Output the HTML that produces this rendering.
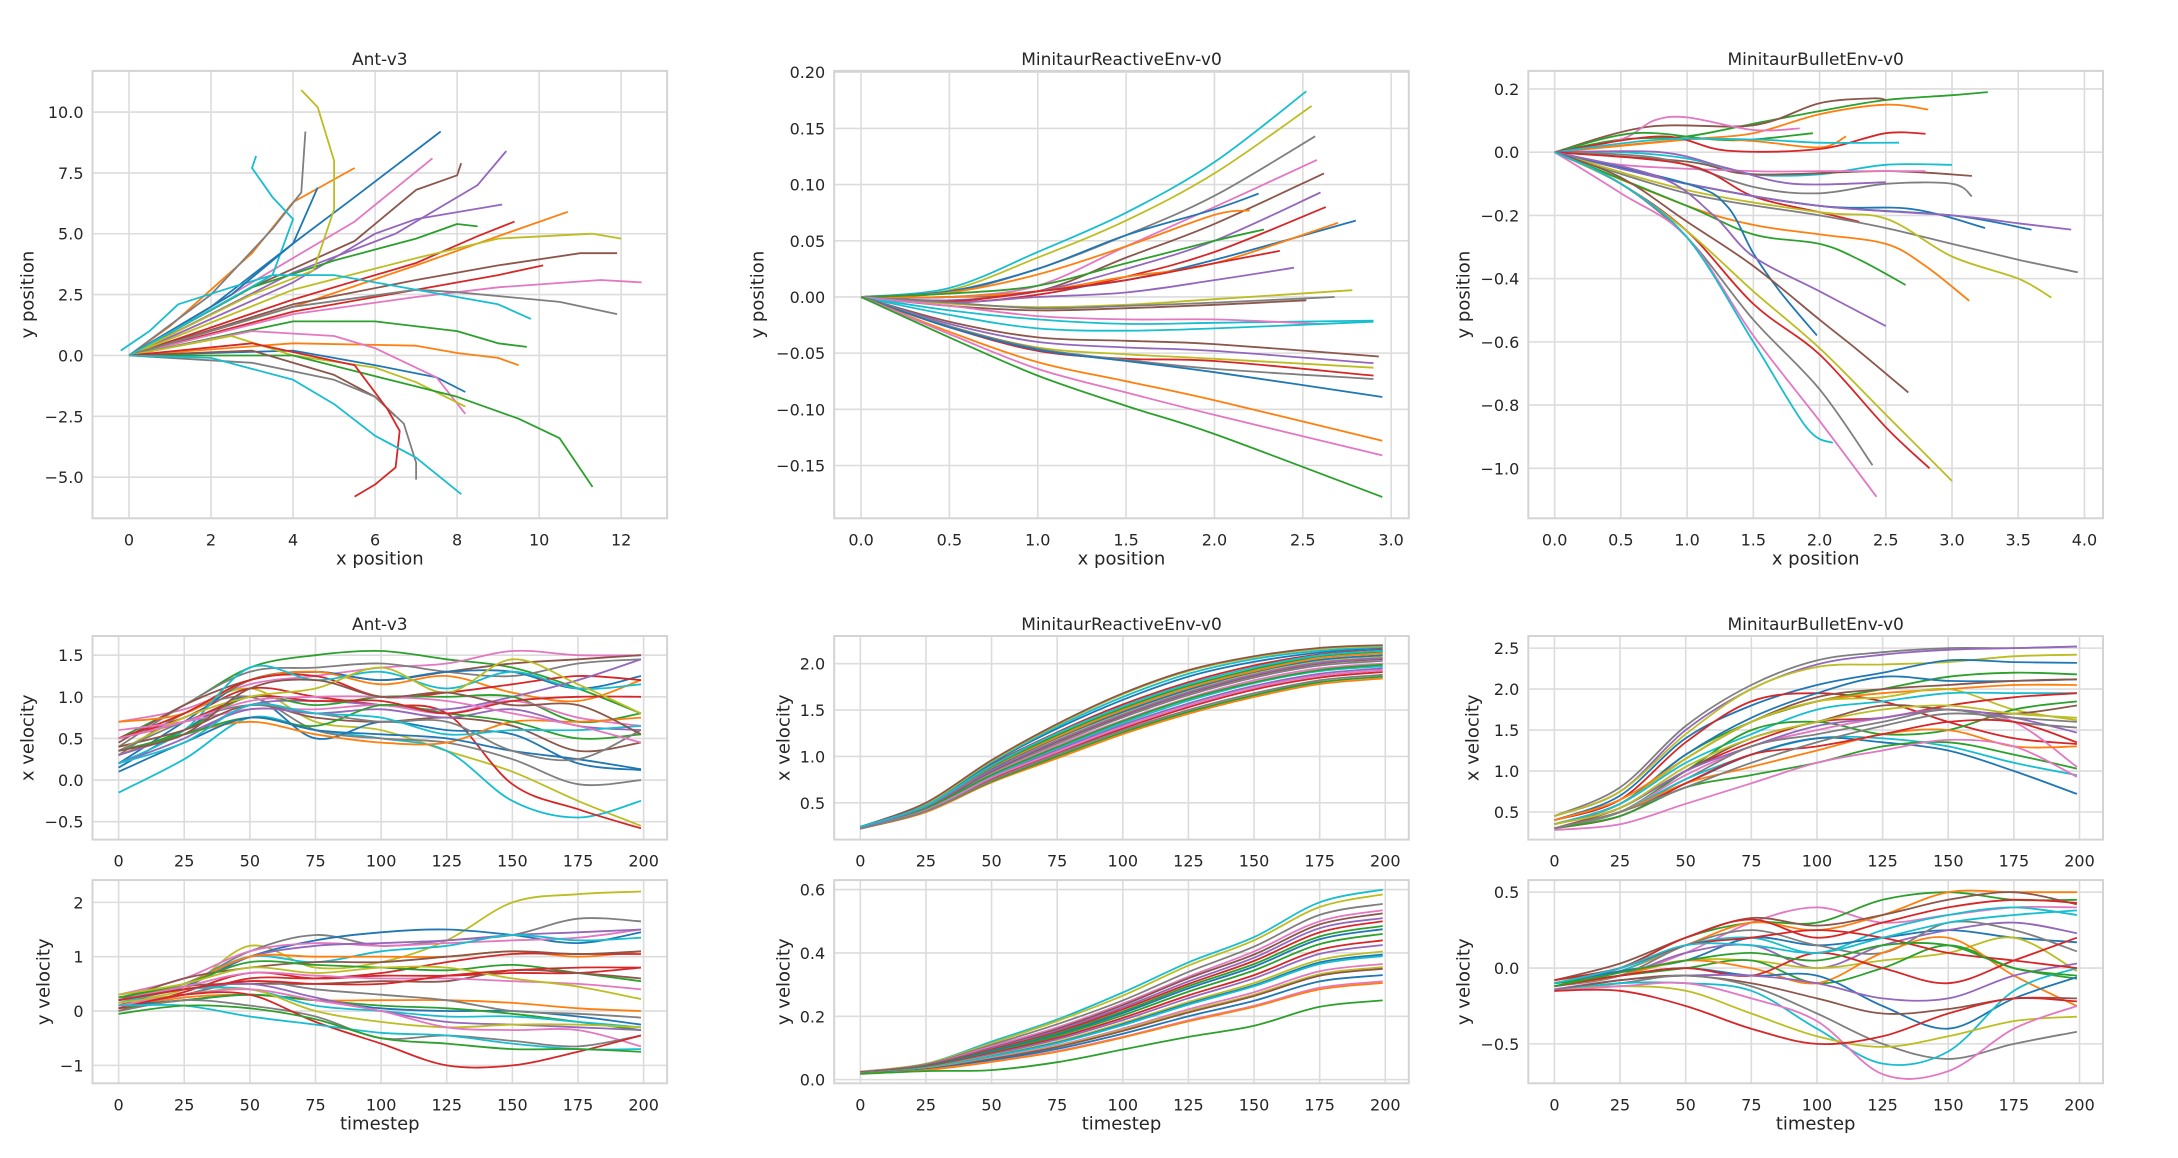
<!DOCTYPE html>
<html><head><meta charset="utf-8">
<style>
html,body{margin:0;padding:0;background:#fff;}
svg{display:block;}
text{font-family:"DejaVu Sans","Liberation Sans",sans-serif;fill:#262626;}
</style></head>
<body>
<svg id="fig" width="2178" height="1158" viewBox="0 0 2178 1158" xmlns="http://www.w3.org/2000/svg"></svg>
<script>
const C=['#1f77b4','#ff7f0e','#2ca02c','#d62728','#9467bd','#8c564b','#e377c2','#7f7f7f','#bcbd22','#17becf'];
const timeSteps=[0,25,50,75,100,125,150,175,199];
const timeTicks=[0,25,50,75,100,125,150,175,200];

// ---- Ant-v3 trajectories [x,y]
const antTraj=[
[[0,0],[2,2],[4,4.6],[5.5,6.5],[7.6,9.2]],
[[0,0],[3,3],[5.5,5.5],[7.4,8.1]],
[[0,0],[3,2.8],[5.5,4.7],[7,6.8],[8,7.4],[8.1,7.9]],
[[0,0],[4,3.4],[6.5,5],[8.5,7],[9.2,8.4]],
[[0,0],[4,3],[6,5],[7,5.6],[9.1,6.2]],
[[0,0],[3,2.8],[5,3.9],[7,4.8],[8,5.4],[8.5,5.3]],
[[0,0],[1,1.2],[2,2.7],[3,4.2],[4,6.3],[5.5,7.7]],
[[0,0],[2,2.5],[3.5,5.2],[4.2,6.7],[4.3,9.2]],
[[0,0],[3,2.5],[4.5,3.5],[5,6],[5,8],[4.6,10.2],[4.2,10.9]],
[[-0.2,0.2],[0.5,1],[1.2,2.1],[2.5,2.8],[3.5,3.3],[4,5.6],[3.5,6.5],[3,7.7],[3.1,8.2]],
[[0,0],[2.5,2.5],[4,4.6],[4.6,6.9]],
[[0,0],[4,2],[7,3.7],[9,4.9],[10.7,5.9]],
[[0,0],[4,2.3],[7,3.8],[8.5,4.9],[9.4,5.5]],
[[0,0],[4,2.7],[7,4],[9,4.8],[11.3,5.0],[12,4.8]],
[[0,0],[4,2.1],[7,3.1],[9,3.7],[11,4.2],[11.9,4.2]],
[[0,0],[4,1.8],[7,2.7],[9,3.3],[10.1,3.7]],
[[0,0],[4,1.7],[7,2.4],[9,2.8],[11.5,3.1],[12.5,3.0]],
[[0,0],[4,2],[7,2.7],[8,2.6],[10.5,2.2],[11.9,1.7]],
[[0,0],[3.5,3.3],[5,3.3],[7,2.7],[9,2.1],[9.8,1.5]],
[[0,0],[4,1.4],[6,1.4],[8,1.0],[9,0.5],[9.7,0.35]],
[[0,0],[4,0.5],[7,0.4],[8,0.1],[9,-0.1],[9.5,-0.4]],
[[0,0],[4,0.2],[6,-0.4],[7.5,-0.9],[8.2,-1.5]],
[[0,0],[3,1],[5,0.8],[6,0.3],[7.5,-0.9],[8.2,-2.4]],
[[0,0],[2.5,0.8],[4,0],[6,-0.5],[7,-1.1],[8.2,-2.1]],
[[0,0],[4,0],[8,-1.7],[9.5,-2.6],[10.5,-3.4],[11.3,-5.4]],
[[0,0],[3,0.2],[5,-0.8],[6,-1.7],[6.5,-2.5]],
[[0,0],[3,-0.3],[5,-1],[6,-1.7],[6.7,-2.8],[7,-4.4],[7,-5.1]],
[[0,0],[3,0.5],[5.5,-0.4],[6.3,-2.2],[6.6,-3.1],[6.5,-4.6],[6,-5.3],[5.5,-5.8]],
[[0,0],[2,-0.1],[4,-1],[5,-2],[6,-3.3],[7,-4.2],[8.1,-5.7]]
];
const antTrajColors=[0,6,5,4,4,2,1,7,8,9,0,1,3,8,5,3,6,7,9,2,1,0,6,8,2,5,7,3,9];

// ---- MinitaurReactive trajectories
const mrTraj=[
[[0,0],[0.5,0.008],[1,0.04],[1.5,0.075],[2,0.12],[2.52,0.183]],
[[0,0],[0.5,0.006],[1,0.035],[1.5,0.068],[2,0.11],[2.55,0.17]],
[[0,0],[0.5,0.004],[1,0.025],[1.5,0.055],[2,0.09],[2.57,0.143]],
[[0,0],[0.5,0.0],[1,0.01],[1.5,0.045],[2,0.08],[2.58,0.122]],
[[0,0],[0.5,0.0],[1,0.005],[1.5,0.035],[2,0.065],[2.62,0.11]],
[[0,0],[0.5,-0.003],[1,0.005],[1.5,0.025],[2,0.05],[2.6,0.093]],
[[0,0],[0.5,0.005],[1,0.025],[1.5,0.055],[2,0.078],[2.25,0.092]],
[[0,0],[0.5,-0.005],[1,0.002],[1.5,0.018],[2,0.04],[2.63,0.08]],
[[0,0],[0.5,0.0],[1,0.005],[1.5,0.015],[2,0.033],[2.8,0.068]],
[[0,0],[0.5,0.004],[1,0.02],[1.5,0.045],[2,0.073],[2.2,0.077]],
[[0,0],[0.5,0.0],[1,0.005],[1.5,0.018],[2,0.03],[2.7,0.066]],
[[0,0],[0.5,0.003],[1,0.01],[1.5,0.03],[2,0.05],[2.28,0.06]],
[[0,0],[0.5,-0.004],[1,0.005],[1.5,0.015],[2,0.03],[2.37,0.041]],
[[0,0],[0.5,-0.005],[1,0.0],[1.5,0.004],[2,0.015],[2.45,0.026]],
[[0,0],[0.5,-0.006],[1,-0.009],[1.5,-0.007],[2,-0.002],[2.78,0.006]],
[[0,0],[0.5,-0.005],[1,-0.01],[1.5,-0.008],[2,-0.005],[2.68,0.0]],
[[0,0],[0.5,-0.008],[1,-0.012],[1.5,-0.01],[2,-0.007],[2.52,-0.003]],
[[0,0],[0.5,-0.012],[1,-0.02],[1.5,-0.024],[2,-0.023],[2.9,-0.021]],
[[0,0],[0.5,-0.008],[1,-0.017],[1.5,-0.02],[2,-0.02],[2.6,-0.024]],
[[0,0],[0.5,-0.016],[1,-0.028],[1.5,-0.03],[2,-0.028],[2.9,-0.022]],
[[0,0],[0.5,-0.022],[1,-0.036],[1.5,-0.039],[2,-0.042],[2.93,-0.053]],
[[0,0],[0.5,-0.024],[1,-0.04],[1.5,-0.045],[2,-0.048],[2.9,-0.059]],
[[0,0],[0.5,-0.026],[1,-0.045],[1.5,-0.051],[2,-0.055],[2.9,-0.063]],
[[0,0],[0.5,-0.027],[1,-0.048],[1.5,-0.055],[2,-0.057],[2.9,-0.07]],
[[0,0],[0.5,-0.026],[1,-0.046],[1.5,-0.056],[2,-0.064],[2.9,-0.073]],
[[0,0],[0.5,-0.027],[1,-0.047],[1.5,-0.057],[2,-0.067],[2.95,-0.089]],
[[0,0],[0.5,-0.031],[1,-0.058],[1.5,-0.075],[2,-0.092],[2.95,-0.128]],
[[0,0],[0.5,-0.033],[1,-0.064],[1.5,-0.085],[2,-0.105],[2.95,-0.141]],
[[0,0],[0.5,-0.036],[1,-0.07],[1.5,-0.097],[2,-0.122],[2.95,-0.178]]
];
const mrTrajColors=[9,8,7,6,5,4,0,3,0,1,1,2,3,4,8,7,5,9,6,9,5,4,8,3,7,0,1,6,2];

// ---- MinitaurBullet trajectories
const mbTraj=[
[[0,0],[0.5,0.04],[1,0.05],[1.5,0.09],[2,0.13],[2.5,0.165],[3,0.18],[3.27,0.19]],
[[0,0],[0.7,0.08],[1.5,0.085],[2,0.155],[2.4,0.17],[2.5,0.165]],
[[0,0],[1,0.04],[1.5,0.06],[2,0.12],[2.5,0.15],[2.82,0.135]],
[[0,0],[0.5,0.04],[0.75,0.1],[1,0.11],[1.5,0.07],[1.85,0.075]],
[[0,0],[0.6,0.06],[1.2,0.04],[1.5,0.04],[1.95,0.06]],
[[0,0],[1,0.04],[1.5,0.035],[2,0.015],[2.2,0.05]],
[[0,0],[0.8,0.05],[1.3,0.005],[2,0.01],[2.5,0.06],[2.8,0.058]],
[[0,0],[0.8,0.04],[1.5,0.04],[2,0.03],[2.6,0.03]],
[[0,0],[0.5,0],[1,-0.02],[1.5,-0.07],[2,-0.07],[2.5,-0.04],[3,-0.04]],
[[0,0],[1,-0.03],[1.5,-0.07],[2.5,-0.06],[3.15,-0.075]],
[[0,0],[0.5,-0.04],[1.5,-0.06],[2,-0.06],[2.8,-0.06]],
[[0,0],[0.8,0],[1.3,-0.05],[1.8,-0.1],[2.5,-0.095]],
[[0,0],[0.8,-0.02],[1.5,-0.11],[2,-0.13],[2.5,-0.1],[3,-0.1],[3.15,-0.14]],
[[0,0],[1,-0.04],[1.5,-0.14],[2,-0.19],[2.3,-0.22]],
[[0,0],[1,-0.1],[2,-0.17],[2.7,-0.18],[3.25,-0.24]],
[[0,0],[1,-0.1],[2,-0.17],[3,-0.2],[3.6,-0.245]],
[[0,0],[1,-0.1],[2,-0.17],[3,-0.2],[3.5,-0.225],[3.9,-0.245]],
[[0,0],[1,-0.13],[2,-0.2],[2.5,-0.24],[3,-0.29],[3.5,-0.34],[3.95,-0.38]],
[[0,0],[1,-0.12],[2,-0.19],[2.5,-0.21],[3,-0.33],[3.5,-0.4],[3.75,-0.46]],
[[0,0],[1,-0.17],[1.5,-0.23],[2,-0.26],[2.5,-0.29],[2.8,-0.36],[3.13,-0.47]],
[[0,0],[1,-0.17],[1.5,-0.26],[2,-0.29],[2.3,-0.34],[2.65,-0.42]],
[[0,0],[1,-0.1],[1.3,-0.17],[1.5,-0.32],[1.7,-0.44],[1.98,-0.58]],
[[0,0],[0.8,-0.08],[1.2,-0.2],[1.5,-0.33],[2,-0.44],[2.5,-0.55]],
[[0,0],[0.5,-0.08],[1,-0.22],[1.5,-0.36],[2,-0.53],[2.3,-0.63],[2.67,-0.76]],
[[0,0],[0.5,-0.1],[1,-0.25],[1.5,-0.48],[2,-0.64],[2.5,-0.87],[2.83,-1.0]],
[[0,0],[0.5,-0.1],[1,-0.25],[1.5,-0.44],[2,-0.62],[2.5,-0.83],[3.0,-1.04]],
[[0,0],[0.5,-0.1],[1,-0.27],[1.5,-0.53],[2,-0.75],[2.4,-0.99]],
[[0,0],[0.5,-0.13],[1,-0.27],[1.5,-0.58],[2,-0.85],[2.43,-1.09]],
[[0,0],[0.5,-0.1],[1,-0.27],[1.5,-0.6],[1.9,-0.87],[2.1,-0.92]]
];
const mbTrajColors=[2,5,1,6,2,1,3,9,9,5,6,4,7,3,0,0,4,7,8,1,2,0,4,5,3,8,7,6,9];

// ---- Ant-v3 x velocity
const antXv=[
[0.5,0.9,1.35,1.5,1.55,1.45,1.35,1.1,0.8],
[0.7,0.85,1.15,1.25,1.35,1.4,1.55,1.5,1.5],
[0.3,0.8,1.1,0.7,0.6,0.35,0.1,-0.25,-0.55],
[-0.15,0.25,0.75,0.6,0.5,0.35,-0.25,-0.45,-0.25],
[0.5,0.75,1.1,1.0,0.9,0.8,-0.05,-0.35,-0.58],
[0.4,0.9,1.3,1.35,1.4,1.3,1.25,1.4,1.45],
[0.45,0.9,1.2,1.3,1.2,1.3,1.4,1.45,1.5],
[0.15,0.6,1.0,0.5,0.7,0.6,0.55,0.2,0.12],
[0.3,0.8,1.0,0.6,0.5,0.45,0.25,-0.05,0.0],
[0.2,0.7,1.2,1.3,1.2,1.3,1.3,1.1,1.25],
[0.7,0.8,1.2,1.3,1.15,1.25,1.05,0.95,1.2],
[0.5,0.8,1.2,1.25,1.0,1.05,1.15,1.25,1.2],
[0.2,0.6,1.35,1.2,1.3,1.1,1.3,1.1,1.15],
[0.2,0.5,0.9,0.95,0.9,0.85,1.0,1.2,1.45],
[0.3,0.6,1.0,0.9,1.0,1.0,1.0,0.7,0.8],
[0.6,0.7,0.85,0.85,0.9,0.8,0.95,0.75,0.65],
[0.4,0.6,0.9,0.75,0.7,0.75,0.65,0.35,0.45],
[0.3,0.55,0.7,0.55,0.45,0.45,0.7,0.7,0.75],
[0.3,0.55,0.85,0.8,0.85,0.75,0.85,0.65,0.6],
[0.35,0.55,0.75,0.65,0.9,0.8,0.7,0.5,0.55],
[0.5,0.7,1.0,0.95,0.95,0.8,0.95,1.0,1.0],
[0.35,0.75,1.0,1.1,1.35,1.05,1.45,1.15,0.8],
[0.1,0.45,0.75,0.6,0.55,0.5,0.35,0.25,0.13],
[0.35,0.7,0.9,0.8,0.7,0.7,0.35,0.25,0.6],
[0.2,0.45,0.9,0.8,0.75,0.55,0.6,0.6,0.65],
[0.5,0.7,0.95,1.0,1.0,0.95,0.8,0.65,0.45],
[0.35,0.55,1.1,1.2,1.0,1.05,0.9,0.9,0.55]
];
const antXvColors=[2,6,8,9,3,7,5,0,7,0,1,3,9,4,2,6,5,1,4,2,3,8,0,7,9,6,5];

// ---- Ant-v3 y velocity
const antYv=[
[0.2,0.4,1.2,0.8,0.9,1.3,2.0,2.15,2.2],
[0.3,0.5,1.1,1.4,1.2,1.3,1.4,1.7,1.65],
[0.2,0.45,1.0,1.3,1.45,1.5,1.4,1.25,1.45],
[0.3,0.6,1.1,1.25,1.2,1.25,1.3,1.35,1.5],
[0.1,0.5,1.0,1.2,1.25,1.3,1.4,1.45,1.5],
[0.2,0.5,1.0,0.9,1.1,1.2,1.4,1.3,1.35],
[0.25,0.5,1.0,1.0,1.0,1.0,1.1,1.0,1.1],
[0.1,0.3,0.6,0.6,0.7,0.9,1.05,1.05,1.05],
[0.2,0.6,0.8,0.9,0.9,1.0,1.1,1.05,1.1],
[0.0,0.35,0.7,0.6,0.65,0.65,0.7,0.7,0.8],
[0.25,0.5,0.9,0.85,0.8,0.75,0.85,0.7,0.55],
[0.1,0.45,0.5,0.5,0.55,0.55,0.75,0.7,0.6],
[0.2,0.45,0.7,0.65,0.6,0.6,0.55,0.5,0.4],
[0.3,0.5,0.8,0.7,0.8,0.8,0.6,0.45,0.22],
[0.05,0.25,0.3,0.2,0.2,0.2,0.15,0.05,0.0],
[0.1,0.2,0.3,0.2,0.05,0.0,0.0,-0.1,-0.25],
[0.1,0.3,0.55,0.4,0.3,0.2,0.0,-0.05,-0.12],
[0.05,0.2,0.3,0.2,0.1,0.05,-0.05,-0.2,-0.35],
[0.15,0.4,0.4,0.1,0.0,-0.1,-0.1,-0.2,-0.3],
[0.2,0.4,0.5,0.25,0.0,-0.2,-0.25,-0.3,-0.35],
[0.15,0.3,0.4,0.0,-0.2,-0.3,-0.25,-0.25,-0.3],
[0.1,0.3,0.4,0.2,0.0,-0.3,-0.35,-0.35,-0.65],
[0.0,0.2,0.1,-0.1,-0.5,-0.45,-0.55,-0.65,-0.45],
[0.05,0.3,0.3,-0.2,-0.6,-1.0,-1.0,-0.75,-0.45],
[0.1,0.1,-0.1,-0.25,-0.4,-0.45,-0.6,-0.7,-0.7],
[-0.05,0.1,0.05,-0.15,-0.5,-0.6,-0.7,-0.7,-0.75],
[0.2,0.4,0.55,0.5,0.5,0.65,0.75,0.8,0.8]
];
const antYvColors=[8,7,0,6,4,9,1,3,5,3,2,5,6,8,1,0,7,2,9,4,8,6,7,3,9,2,3];

// ---- MinitaurReactive x velocity
const mrXv=[
[0.22,0.40,0.72,0.98,1.24,1.46,1.64,1.78,1.84],
[0.22,0.41,0.73,1.0,1.26,1.48,1.66,1.8,1.86],
[0.23,0.42,0.76,1.04,1.3,1.53,1.72,1.85,1.91],
[0.23,0.43,0.78,1.07,1.34,1.57,1.76,1.89,1.95],
[0.22,0.43,0.79,1.09,1.36,1.6,1.79,1.92,1.97],
[0.23,0.44,0.81,1.12,1.39,1.63,1.82,1.95,2.0],
[0.23,0.45,0.83,1.14,1.42,1.66,1.85,1.98,2.03],
[0.24,0.45,0.84,1.16,1.44,1.68,1.87,2.0,2.05],
[0.23,0.46,0.86,1.18,1.46,1.7,1.89,2.02,2.07],
[0.24,0.46,0.87,1.2,1.48,1.72,1.91,2.04,2.09],
[0.24,0.47,0.88,1.21,1.5,1.74,1.92,2.06,2.11],
[0.23,0.47,0.89,1.23,1.52,1.76,1.94,2.08,2.13],
[0.24,0.48,0.91,1.26,1.56,1.8,1.98,2.1,2.15],
[0.23,0.48,0.93,1.3,1.61,1.86,2.02,2.12,2.17],
[0.24,0.49,0.94,1.32,1.64,1.89,2.05,2.14,2.18],
[0.24,0.49,0.95,1.34,1.67,1.92,2.07,2.16,2.19],
[0.24,0.5,0.96,1.35,1.68,1.93,2.08,2.17,2.2],
[0.23,0.44,0.8,1.1,1.38,1.62,1.8,1.93,1.99],
[0.22,0.42,0.77,1.05,1.32,1.55,1.74,1.87,1.93],
[0.23,0.46,0.85,1.17,1.45,1.69,1.88,2.01,2.06],
[0.22,0.41,0.74,1.02,1.28,1.5,1.68,1.82,1.88],
[0.24,0.47,0.9,1.25,1.54,1.78,1.96,2.09,2.14]
];
const mrXvColors=[1,2,3,4,9,6,7,5,8,0,1,2,3,0,9,8,5,2,6,4,7,9];

// ---- MinitaurReactive y velocity
const mrYv=[
[0.025,0.05,0.12,0.19,0.275,0.37,0.45,0.56,0.60],
[0.025,0.05,0.115,0.185,0.265,0.36,0.44,0.545,0.585],
[0.024,0.048,0.11,0.175,0.25,0.34,0.42,0.52,0.555],
[0.024,0.046,0.105,0.165,0.24,0.325,0.405,0.5,0.535],
[0.023,0.045,0.1,0.16,0.235,0.32,0.395,0.49,0.525],
[0.023,0.044,0.098,0.155,0.228,0.31,0.385,0.478,0.51],
[0.023,0.043,0.095,0.15,0.222,0.302,0.375,0.465,0.50],
[0.022,0.042,0.092,0.146,0.215,0.295,0.365,0.452,0.485],
[0.022,0.041,0.09,0.142,0.21,0.288,0.357,0.443,0.475],
[0.022,0.04,0.086,0.138,0.203,0.278,0.345,0.428,0.46],
[0.022,0.039,0.083,0.132,0.195,0.266,0.33,0.41,0.44],
[0.021,0.038,0.08,0.127,0.188,0.257,0.32,0.397,0.425],
[0.021,0.037,0.076,0.12,0.179,0.245,0.305,0.378,0.405],
[0.021,0.036,0.074,0.117,0.175,0.24,0.298,0.37,0.395],
[0.021,0.036,0.073,0.115,0.172,0.237,0.295,0.365,0.39],
[0.02,0.034,0.068,0.108,0.161,0.222,0.276,0.342,0.365],
[0.02,0.034,0.066,0.105,0.157,0.216,0.268,0.333,0.355],
[0.02,0.033,0.065,0.103,0.154,0.212,0.264,0.328,0.35],
[0.02,0.032,0.061,0.097,0.145,0.2,0.249,0.31,0.33],
[0.019,0.03,0.057,0.09,0.135,0.187,0.233,0.29,0.31],
[0.019,0.03,0.056,0.088,0.133,0.184,0.23,0.285,0.305],
[0.018,0.027,0.03,0.055,0.095,0.135,0.17,0.23,0.25]
];
const mrYvColors=[9,8,7,6,5,4,3,2,0,2,3,4,8,0,9,6,8,5,0,6,1,2];

// ---- MinitaurBullet x velocity
const mbXv=[
[0.45,0.8,1.55,2.05,2.35,2.45,2.5,2.5,2.52],
[0.45,0.75,1.5,2.0,2.3,2.42,2.48,2.5,2.52],
[0.45,0.75,1.45,2.0,2.27,2.3,2.33,2.4,2.42],
[0.4,0.7,1.4,1.8,2.05,2.2,2.35,2.33,2.32],
[0.4,0.65,1.35,1.85,1.95,1.85,1.6,1.4,1.33],
[0.35,0.6,1.2,1.6,1.85,2.0,2.15,2.2,2.18],
[0.35,0.6,1.2,1.65,1.95,2.15,2.1,2.1,2.12],
[0.35,0.6,1.15,1.6,1.9,2.0,2.05,2.1,2.12],
[0.4,0.65,1.15,1.6,1.85,1.95,2.0,2.05,2.05],
[0.35,0.6,1.15,1.6,1.85,1.9,2.0,1.75,1.62],
[0.35,0.6,1.1,1.45,1.75,1.85,1.95,1.95,1.95],
[0.3,0.55,1.0,1.35,1.6,1.65,1.8,1.9,1.95],
[0.3,0.5,1.0,1.5,1.6,1.45,1.5,1.75,1.85],
[0.3,0.55,1.0,1.4,1.6,1.8,1.75,1.7,1.8],
[0.3,0.5,0.95,1.3,1.5,1.65,1.75,1.6,1.05],
[0.35,0.55,1.0,1.3,1.55,1.65,1.75,1.65,1.47],
[0.3,0.5,0.9,1.3,1.45,1.6,1.75,1.6,1.53],
[0.3,0.5,0.9,1.2,1.4,1.4,1.3,1.1,0.95],
[0.3,0.5,0.85,1.2,1.4,1.35,1.25,1.0,0.72],
[0.3,0.5,0.85,1.05,1.25,1.45,1.5,1.3,1.3],
[0.3,0.45,0.85,1.2,1.3,1.45,1.6,1.6,1.35],
[0.3,0.45,0.8,0.95,1.1,1.3,1.35,1.2,1.03],
[0.28,0.35,0.6,0.85,1.1,1.25,1.38,1.3,0.93],
[0.3,0.5,0.8,1.1,1.35,1.55,1.7,1.65,1.6],
[0.35,0.55,1.05,1.4,1.6,1.75,1.8,1.7,1.65]
];
const mbXvColors=[7,4,8,0,3,2,0,5,1,8,9,3,2,5,6,4,7,9,0,1,3,2,6,7,8];

// ---- MinitaurBullet y velocity
const mbYv=[
[-0.1,-0.05,0.1,0.3,0.4,0.3,0.35,0.4,0.4],
[-0.08,0.0,0.2,0.3,0.3,0.45,0.5,0.45,0.45],
[-0.1,-0.02,0.15,0.3,0.25,0.35,0.5,0.5,0.5],
[-0.08,0.03,0.2,0.33,0.28,0.35,0.45,0.5,0.42],
[-0.1,0.0,0.2,0.32,0.2,0.3,0.4,0.45,0.43],
[-0.12,-0.02,0.15,0.2,0.1,0.25,0.35,0.4,0.35],
[-0.1,-0.02,0.05,0.2,0.15,0.2,0.25,0.2,0.17],
[-0.1,-0.05,0.1,0.15,0.0,0.15,0.25,0.3,0.23],
[-0.12,-0.05,0.15,0.25,0.15,0.1,0.3,0.25,0.11],
[-0.12,-0.05,0.05,0.05,0.0,0.05,0.1,0.2,-0.02],
[-0.1,-0.05,0.0,0.05,-0.1,0.0,0.15,0.0,-0.07],
[-0.12,-0.05,0.05,0.0,-0.1,0.1,0.2,-0.05,-0.25],
[-0.12,-0.05,0.0,-0.05,-0.05,-0.25,-0.4,-0.2,-0.06],
[-0.12,-0.05,0.0,-0.05,0.1,0.0,-0.1,0.05,0.2],
[-0.14,-0.08,-0.05,-0.05,-0.1,-0.2,-0.2,-0.05,0.03],
[-0.15,-0.08,-0.05,-0.1,-0.2,-0.3,-0.27,-0.2,-0.2],
[-0.15,-0.1,-0.05,-0.12,-0.3,-0.5,-0.6,-0.5,-0.42],
[-0.15,-0.1,-0.1,-0.15,-0.4,-0.63,-0.55,-0.15,0.0],
[-0.15,-0.12,-0.15,-0.3,-0.45,-0.52,-0.45,-0.35,-0.32],
[-0.15,-0.12,-0.1,-0.2,-0.35,-0.7,-0.68,-0.4,-0.25],
[-0.15,-0.15,-0.25,-0.4,-0.5,-0.45,-0.3,-0.2,-0.22],
[-0.08,0.0,0.15,0.2,0.25,0.2,0.1,0.05,0.0],
[-0.1,0.0,0.15,0.15,0.1,0.2,0.3,0.35,0.38],
[-0.12,-0.03,0.05,0.1,0.05,0.15,0.15,0.0,-0.05]
];
const mbYvColors=[6,2,1,5,3,9,0,4,7,8,2,1,0,3,4,5,7,9,8,6,3,3,9,2];

// ---- tick arrays
const antXTicks=[0,2,4,6,8,10,12];
const antYTicks=[-5,-2.5,0,2.5,5,7.5,10];
const mrXTicks=[0,0.5,1,1.5,2,2.5,3];
const mrYTicks=[-0.15,-0.1,-0.05,0,0.05,0.1,0.15,0.2];
const mbXTicks=[0,0.5,1,1.5,2,2.5,3,3.5,4];
const mbYTicks=[-1,-0.8,-0.6,-0.4,-0.2,0,0.2];
const antXvTicks=[-0.5,0,0.5,1,1.5];
const antYvTicks=[-1,0,1,2];
const mrXvTicks=[0.5,1,1.5,2];
const mrYvTicks=[0,0.2,0.4,0.6];
const mbXvTicks=[0.5,1,1.5,2,2.5];
const mbYvTicks=[-0.5,0,0.5];

const NS='http://www.w3.org/2000/svg';
const fig=document.getElementById('fig');
function mk(tag,parent){const e=document.createElementNS(NS,tag);parent.appendChild(e);return e;}
function fmt(v,d){const s=Math.abs(v).toFixed(d);return (v<0?'\u2212':'')+s;}

function smoothPath(pts){
  let d='M'+pts[0][0].toFixed(1)+','+pts[0][1].toFixed(1);
  for(let i=0;i<pts.length-1;i++){
    const p0=pts[Math.max(0,i-1)],p1=pts[i],p2=pts[i+1],p3=pts[Math.min(pts.length-1,i+2)];
    const c1x=p1[0]+(p2[0]-p0[0])/6,c1y=p1[1]+(p2[1]-p0[1])/6;
    const c2x=p2[0]-(p3[0]-p1[0])/6,c2y=p2[1]-(p3[1]-p1[1])/6;
    d+=' C'+c1x.toFixed(1)+','+c1y.toFixed(1)+' '+c2x.toFixed(1)+','+c2y.toFixed(1)+' '+p2[0].toFixed(1)+','+p2[1].toFixed(1);
  }
  return d;
}

function panel(o){
  const g=mk('g',fig);
  
  
  const sx=v=>o.x0+(v-o.xlim[0])/(o.xlim[1]-o.xlim[0])*(o.x1-o.x0);
  const sy=v=>o.y1-(v-o.ylim[0])/(o.ylim[1]-o.ylim[0])*(o.y1-o.y0);
  const bg=mk('rect',g);
  bg.setAttribute('x',o.x0);bg.setAttribute('y',o.y0);bg.setAttribute('width',o.x1-o.x0);bg.setAttribute('height',o.y1-o.y0);
  bg.setAttribute('fill','#fff');
  
  
  o.xticks.forEach(t=>{
    const X=sx(t);
    const l=mk('line',g);l.setAttribute('x1',X);l.setAttribute('x2',X);l.setAttribute('y1',o.y0);l.setAttribute('y2',o.y1);
    l.setAttribute('stroke','#dcdcdc');l.setAttribute('stroke-width','1.6');
    
    
    const tx=mk('text',g);tx.setAttribute('x',X);tx.setAttribute('y',o.y1+27);tx.setAttribute('text-anchor','middle');tx.setAttribute('font-size','16');
    tx.textContent=o.xfmt(t);
    
    
  });
  o.yticks.forEach(t=>{
    const Y=sy(t);
    const l=mk('line',g);l.setAttribute('x1',o.x0);l.setAttribute('x2',o.x1);l.setAttribute('y1',Y);l.setAttribute('y2',Y);
    l.setAttribute('stroke','#dcdcdc');l.setAttribute('stroke-width','1.6');
    
    
    const tx=mk('text',g);tx.setAttribute('x',o.x0-9);tx.setAttribute('y',Y+6);tx.setAttribute('text-anchor','end');tx.setAttribute('font-size','16');
    tx.textContent=o.yfmt(t);
    
    
  });
  const cp=mk('clipPath',g);cp.setAttribute('id','cp-'+o.name);
  const cr=mk('rect',cp);cr.setAttribute('x',o.x0);cr.setAttribute('y',o.y0);cr.setAttribute('width',o.x1-o.x0);cr.setAttribute('height',o.y1-o.y0);
  const lg=mk('g',g);lg.setAttribute('clip-path','url(#cp-'+o.name+')');
  o.series.forEach((s,i)=>{
    let pts;
    if(o.traj) pts=s.map(p=>[sx(p[0]),sy(p[1])]);
    else pts=s.map((v,j)=>[sx(timeSteps[j]),sy(v)]);
    const p=mk('path',lg);
    p.setAttribute('d',o.straight?('M'+pts.map(q=>q[0].toFixed(1)+','+q[1].toFixed(1)).join(' L')):smoothPath(pts));
    p.setAttribute('fill','none');p.setAttribute('stroke',C[o.colors[i%o.colors.length]]);p.setAttribute('stroke-width','1.8');
    p.setAttribute('stroke-linejoin','round');
    
    
  });
  const fr=mk('rect',g);
  fr.setAttribute('x',o.x0);fr.setAttribute('y',o.y0);fr.setAttribute('width',o.x1-o.x0);fr.setAttribute('height',o.y1-o.y0);
  fr.setAttribute('fill','none');fr.setAttribute('stroke','#d4d4d4');fr.setAttribute('stroke-width','2');
  
  
  if(o.title){
    const t=mk('text',g);t.setAttribute('x',(o.x0+o.x1)/2);t.setAttribute('y',o.y0-6);t.setAttribute('text-anchor','middle');t.setAttribute('font-size','17');
    t.textContent=o.title;
    
    
  }
  if(o.xlabel){
    const t=mk('text',g);t.setAttribute('x',(o.x0+o.x1)/2);t.setAttribute('y',o.y1+46);t.setAttribute('text-anchor','middle');t.setAttribute('font-size','18');
    t.textContent=o.xlabel;
    
    
  }
  if(o.ylabel){
    const t=mk('text',g);const cy=(o.y0+o.y1)/2;
    t.setAttribute('x',o.ylx);t.setAttribute('y',cy);t.setAttribute('text-anchor','middle');t.setAttribute('font-size','18');
    t.setAttribute('dominant-baseline','central');
    t.setAttribute('transform','rotate(-90 '+o.ylx+' '+cy+')');
    t.textContent=o.ylabel;
    
    
  }
}

const colX=[[92.5,667.1],[834.2,1408.8],[1528.3,2103.0]];
const topY=[70.9,518.3], xvY=[636.0,839.6], yvY=[880.1,1083.3];
const tlim=[-9.95,208.95];
const intF=v=>String(v), f1=v=>fmt(v,1), f2=v=>fmt(v,2), iF=v=>fmt(v,0);

panel({name:'ant-trajectory-panel',x0:colX[0][0],x1:colX[0][1],y0:topY[0],y1:topY[1],xlim:[-0.89,13.12],ylim:[-6.69,11.69],
  xticks:antXTicks,yticks:antYTicks,xfmt:intF,yfmt:f1,series:antTraj,colors:antTrajColors,traj:true,straight:true,
  title:'Ant-v3',xlabel:'x position',ylabel:'y position',ylx:28});
panel({name:'minitaur-reactive-trajectory-panel',x0:colX[1][0],x1:colX[1][1],y0:topY[0],y1:topY[1],xlim:[-0.152,3.10],ylim:[-0.197,0.2012],
  xticks:mrXTicks,yticks:mrYTicks,xfmt:f1,yfmt:f2,series:mrTraj,colors:mrTrajColors,traj:true,
  title:'MinitaurReactiveEnv-v0',xlabel:'x position',ylabel:'y position',ylx:758});
panel({name:'minitaur-bullet-trajectory-panel',x0:colX[2][0],x1:colX[2][1],y0:topY[0],y1:topY[1],xlim:[-0.199,4.14],ylim:[-1.158,0.257],
  xticks:mbXTicks,yticks:mbYTicks,xfmt:f1,yfmt:f1,series:mbTraj,colors:mbTrajColors,traj:true,
  title:'MinitaurBulletEnv-v0',xlabel:'x position',ylabel:'y position',ylx:1464});

panel({name:'ant-x-velocity-panel',x0:colX[0][0],x1:colX[0][1],y0:xvY[0],y1:xvY[1],xlim:tlim,ylim:[-0.715,1.73],
  xticks:timeTicks,yticks:antXvTicks,xfmt:intF,yfmt:f1,series:antXv,colors:antXvColors,title:'Ant-v3',ylabel:'x velocity',ylx:28});
panel({name:'ant-y-velocity-panel',x0:colX[0][0],x1:colX[0][1],y0:yvY[0],y1:yvY[1],xlim:tlim,ylim:[-1.33,2.41],
  xticks:timeTicks,yticks:antYvTicks,xfmt:intF,yfmt:iF,series:antYv,colors:antYvColors,xlabel:'timestep',ylabel:'y velocity',ylx:44});

panel({name:'minitaur-reactive-x-velocity-panel',x0:colX[1][0],x1:colX[1][1],y0:xvY[0],y1:xvY[1],xlim:tlim,ylim:[0.103,2.298],
  xticks:timeTicks,yticks:mrXvTicks,xfmt:intF,yfmt:f1,series:mrXv,colors:mrXvColors,title:'MinitaurReactiveEnv-v0',ylabel:'x velocity',ylx:784});
panel({name:'minitaur-reactive-y-velocity-panel',x0:colX[1][0],x1:colX[1][1],y0:yvY[0],y1:yvY[1],xlim:tlim,ylim:[-0.0116,0.630],
  xticks:timeTicks,yticks:mrYvTicks,xfmt:intF,yfmt:f1,series:mrYv,colors:mrYvColors,xlabel:'timestep',ylabel:'y velocity',ylx:784});

panel({name:'minitaur-bullet-x-velocity-panel',x0:colX[2][0],x1:colX[2][1],y0:xvY[0],y1:xvY[1],xlim:tlim,ylim:[0.163,2.648],
  xticks:timeTicks,yticks:mbXvTicks,xfmt:intF,yfmt:f1,series:mbXv,colors:mbXvColors,title:'MinitaurBulletEnv-v0',ylabel:'x velocity',ylx:1473});
panel({name:'minitaur-bullet-y-velocity-panel',x0:colX[2][0],x1:colX[2][1],y0:yvY[0],y1:yvY[1],xlim:tlim,ylim:[-0.76,0.58],
  xticks:timeTicks,yticks:mbYvTicks,xfmt:intF,yfmt:f1,series:mbYv,colors:mbYvColors,xlabel:'timestep',ylabel:'y velocity',ylx:1464});
</script>
</body></html>
